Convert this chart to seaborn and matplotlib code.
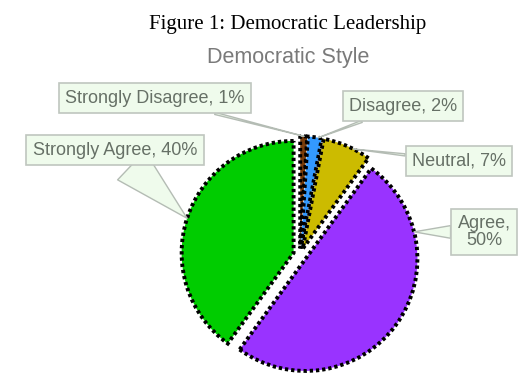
import matplotlib
matplotlib.use('Agg')
import numpy as np
import seaborn as sns
import matplotlib.pyplot as plt

# ==== DATA ====
categories = ['Strongly Disagree', 'Disagree', 'Neutral', 'Agree', 'Strongly Agree']
shares = [1, 2, 7, 50, 40]
slice_colors = ['#7a3d0a', '#3399ff', '#ccbb00', '#9933ff', '#00cc00']

# ==== STYLE ====
sns.set_theme(style='white')
plt.rcParams['font.family'] = ['Liberation Sans', 'DejaVu Sans']

W, H = 528, 374
fig = plt.figure(figsize=(W / 100, H / 100), dpi=100)
ax = fig.add_axes([0, 0, 1, 1])

# pie drawn in pixel units (y up) so the layout matches the picture
radius = 112
wedges, _ = ax.pie(
    shares,
    colors=slice_colors,
    startangle=90,
    counterclock=False,
    center=(300, 119),
    radius=radius,
    explode=[0.06 * radius] * len(shares),
    wedgeprops=dict(edgecolor='black', linewidth=2.8, linestyle=(0, (0.85, 0.75))),
)
ax.set_xlim(0, W)
ax.set_ylim(0, H)
ax.set_aspect('equal')
ax.axis('off')

# ==== CALLOUTS ====
label_text = [f"{c},\n{v}%" if c == 'Agree' else f"{c}, {v}%" for c, v in zip(categories, shares)]
label_pos = [(155, 276), (403, 268), (459, 213), (484, 142), (115, 224)]
tip_angles = [88, 81, 63, 14, 162]
tail_widths = [0.12, 0.12, 0.12, 0.7, 2.2]

for w, txt, (tx, ty), ang, tw in zip(wedges, label_text, label_pos, tip_angles, tail_widths):
    cx, cy = w.center
    tip = (cx + w.r * np.cos(np.radians(ang)), cy + w.r * np.sin(np.radians(ang)))
    ax.annotate(
        txt, xy=tip, xytext=(tx, ty), textcoords='data',
        ha='center', va='center', fontsize=13, color='#667066', linespacing=1.0,
        bbox=dict(boxstyle='square,pad=0.35', fc='#effbec', ec='#bfc6bf', lw=1.2),
        arrowprops=dict(arrowstyle=f'wedge,tail_width={tw},shrink_factor=0.5',
                        fc='#effbec', ec='#b4bcb4', lw=1, shrinkA=0, shrinkB=0),
    )

fig.text(288 / W, 1 - 25 / H, 'Figure 1: Democratic Leadership',
         ha='center', va='center', fontsize=15, family='Liberation Serif', color='black')
fig.text(288 / W, 1 - 57 / H, 'Democratic Style',
         ha='center', va='center', fontsize=15.5, color='#7a7a7a')

fig.savefig('out.png', dpi=100)
